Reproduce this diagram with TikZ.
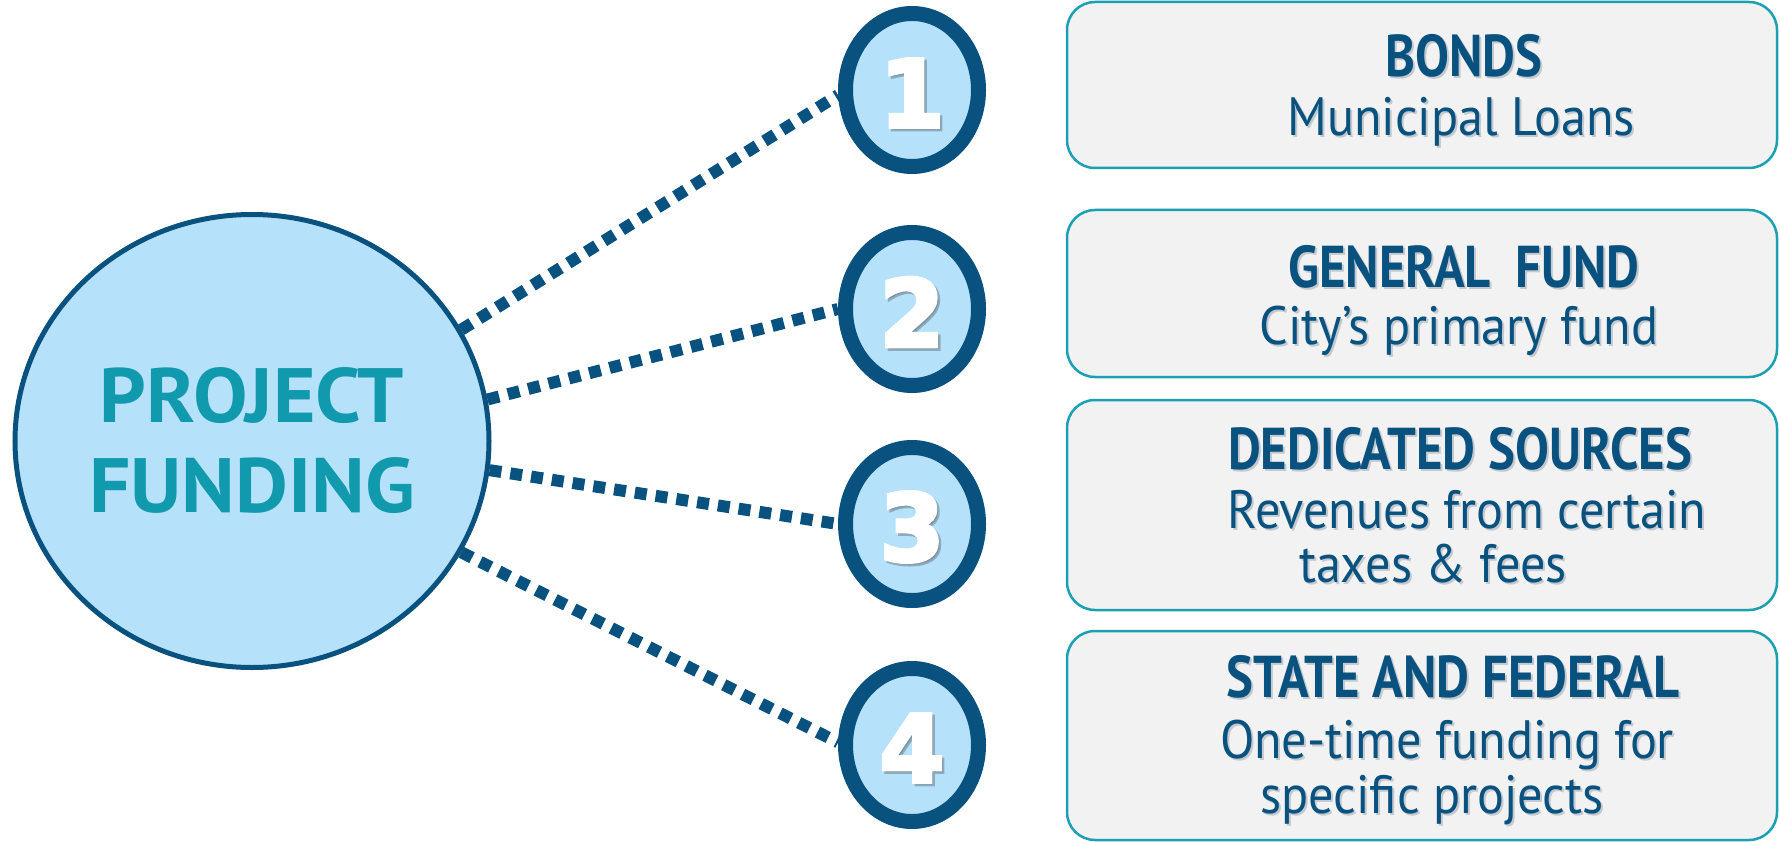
\documentclass[tikz,border=0pt]{standalone}
\usepackage{fontspec}
\setmainfont{PT Sans}
\newfontfamily\hubfont[FakeStretch=1.06]{PT Sans}
\newfontfamily\titlefamily[FakeStretch=0.86]{PT Sans}
\newfontfamily\subfamily[FakeStretch=0.93]{PT Sans}
\newfontfamily\digitfont[BoldFeatures={FakeBold=4}]{DejaVu Sans}
\usetikzlibrary{shapes.geometric}

\definecolor{navy}{HTML}{09527F}
\definecolor{skyfill}{HTML}{B5E1FA}
\definecolor{tealtext}{HTML}{1199AD}
\definecolor{tealedge}{HTML}{1AA0B2}
\definecolor{boxfill}{HTML}{F2F2F2}
\definecolor{shade}{HTML}{6E7F8E}

% one line of box text with a soft drop shadow beneath it
\newcommand\boxline[4]{%
  \node[lineshadow,#3] at (#2) {#4};
  \node[linetext,#3] (#1) at (#2) {#4};}
% a white numeral with a drop shadow, centred in a ring
\newcommand\numeral[3]{%
  \node[digitshadow] at (#2) {#3};
  \node[digit] (#1) at (#2) {#3};}

\begin{document}
\begin{tikzpicture}[x=1pt,y=-1pt,
  hub/.style={ellipse, draw=navy, line width=5pt, fill=skyfill,
    minimum width=474pt, minimum height=453pt, inner sep=0pt,
    text=tealtext, align=center, font=\hubfont\bfseries\fontsize{77}{90}\selectfont},
  ring/.style={ellipse, draw=navy, line width=15pt, fill=skyfill,
    minimum width=133pt, minimum height=153pt, inner sep=0pt},
  digit/.style={text=white, inner sep=0pt, yshift=-3pt,
    font=\digitfont\bfseries\fontsize{93}{93}\selectfont},
  digitshadow/.style={digit, text=shade, opacity=0.55, xshift=2.5pt, yshift=-2.5pt},
  srcbox/.style={rectangle, draw=tealedge, line width=2.5pt, fill=boxfill,
    rounded corners=28pt, minimum width=710pt, inner sep=0pt},
  linetext/.style={anchor=base, inner sep=0pt, text=navy},
  lineshadow/.style={linetext, text=shade, opacity=0.35, xshift=2pt, yshift=-2pt},
  titlefont/.style={font=\titlefamily\bfseries\fontsize{59}{60}\selectfont},
  subfont/.style={font=\subfamily\fontsize{54}{60}\selectfont},
  link/.style={draw=navy, line width=12pt, dash pattern=on 12pt off 9pt}]

\useasboundingbox (0,0) rectangle (1780,842);
\clip (0,0) rectangle (1780,842);

% central hub
\node[hub] (hub) at (252,441) {PROJECT\\FUNDING};

% numbered rings
\node[ring] (c1) at (912,90) {};
\node[ring] (c2) at (912,309) {};
\node[ring] (c3) at (912,524) {};
\node[ring] (c4) at (912,745) {};
\numeral{d1}{c1}{1}
\numeral{d2}{c2}{2}
\numeral{d3}{c3}{3}
\numeral{d4}{c4}{4}

% dotted links from the hub to each ring
\draw[link] (hub.28) -- (c1.184);
\draw[link] (hub.10) -- (c2.west);
\draw[link] (hub.-7) -- (c3.west);
\draw[link] (hub.-28) -- (c4.178);

% source boxes
\node[srcbox, minimum height=166pt] (box1) at (1422,85) {};
\node[srcbox, minimum height=167pt] (box2) at (1422,293.5) {};
\node[srcbox, minimum height=210pt] (box3) at (1422,505) {};
\node[srcbox, minimum height=209pt] (box4) at (1422,735.5) {};

% box texts
\boxline{t1}{1464,77}{titlefont}{BONDS}
\boxline{s1}{1461,136}{subfont}{Municipal Loans}

\boxline{t2}{1464,288}{titlefont}{GENERAL\hspace{12pt} FUND}
\boxline{s2}{1459,344}{subfont}{City’s primary fund}

\boxline{t3}{1460,469}{titlefont}{DEDICATED SOURCES}
\boxline{s3a}{1467,528}{subfont}{Revenues from certain}
\boxline{s3b}{1433,582}{subfont}{taxes \& fees}

\boxline{t4}{1453,697}{titlefont}{STATE AND FEDERAL}
\boxline{s4a}{1447,758}{subfont}{One-time funding for}
\boxline{s4b}{1432,813}{subfont}{specific projects}
\end{tikzpicture}
\end{document}
